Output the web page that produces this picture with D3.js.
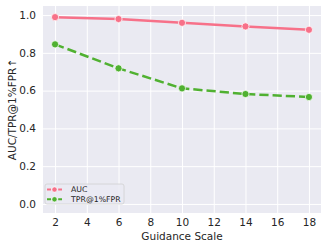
<!DOCTYPE html>
<html><head><meta charset="utf-8">
<script src="https://cdn.jsdelivr.net/npm/d3@7"></script>
<style>body{margin:0;background:#fff}svg{display:block}text{font-family:"DejaVu Sans",sans-serif;fill:#262626}</style>
</head><body><svg id="c" width="327" height="249"></svg>
<script>
const scales = [2, 6, 10, 14, 18];
const auc = [0.989, 0.979, 0.959, 0.940, 0.922];
const tpr = [0.845, 0.718, 0.612, 0.582, 0.566];
const xTicks = [2, 4, 6, 8, 10, 12, 14, 16, 18];
const yTicks = [0.0, 0.2, 0.4, 0.6, 0.8, 1.0];
const seriesNames = ["AUC", "TPR@1%FPR"];

const svg = d3.select("#c");
const m = {l: 43, r: 321, t: 6, b: 213};
const x = d3.scaleLinear().domain([1.24, 18.76]).range([m.l, m.r]);
const y = d3.scaleLinear().domain([-0.048, 1.048]).range([m.b, m.t]);

svg.append("rect").attr("x", m.l).attr("y", m.t).attr("width", m.r - m.l).attr("height", m.b - m.t).attr("fill", "#eaeaf2");

const gx = svg.append("g").attr("transform", `translate(0,${m.b})`)
  .call(d3.axisBottom(x).tickValues(xTicks).tickSize(-(m.b - m.t)).tickPadding(6).tickFormat(d3.format("d")));
const gy = svg.append("g").attr("transform", `translate(${m.l},0)`)
  .call(d3.axisLeft(y).tickValues(yTicks).tickSize(-(m.r - m.l)).tickPadding(7).tickFormat(d3.format(".1f")));
[gx, gy].forEach(g => {
  g.select(".domain").remove();
  g.selectAll(".tick line").attr("stroke", "#fff").attr("stroke-width", 1);
  g.selectAll(".tick text").attr("font-size", 10.5).style("fill", "#262626");
});

const series = [
  {name: seriesNames[0], vals: auc, color: "#f77189", dash: null},
  {name: seriesNames[1], vals: tpr, color: "#50b131", dash: "9.25,4"}
];
const line = d3.line().x((d, i) => x(scales[i])).y(d => y(d));
series.forEach(s => {
  svg.append("path").datum(s.vals).attr("d", line).attr("fill", "none")
    .attr("stroke", s.color).attr("stroke-width", 2.5).attr("stroke-dasharray", s.dash);
  svg.selectAll(null).data(s.vals).enter().append("circle")
    .attr("cx", (d, i) => x(scales[i])).attr("cy", d => y(d)).attr("r", 3.6)
    .attr("fill", s.color).attr("stroke", "#fff").attr("stroke-width", 0.75);
});

// axis labels
svg.append("text").attr("x", (m.l + m.r) / 2).attr("y", 240).attr("text-anchor", "middle").attr("font-size", 10.5).text("Guidance Scale");
svg.append("text").attr("transform", `translate(16,${(m.t + m.b) / 2}) rotate(-90)`).attr("text-anchor", "middle").attr("font-size", 10.5).text("AUC/TPR@1%FPR↑");

// legend
const lg = svg.append("g");
lg.append("rect").attr("x", 45).attr("y", 184).attr("width", 79).attr("height", 20).attr("rx", 2)
  .attr("fill", "#eaeaf2").attr("fill-opacity", 0.8).attr("stroke", "#d0d0d0").attr("stroke-width", 0.8);
series.forEach((s, i) => {
  const yy = 189.5 + i * 9.8;
  lg.append("line").attr("x1", 47).attr("x2", 62).attr("y1", yy).attr("y2", yy)
    .attr("stroke", s.color).attr("stroke-width", 2).attr("stroke-dasharray", "4,1.6");
  lg.append("circle").attr("cx", 54.5).attr("cy", yy).attr("r", 2.6).attr("fill", s.color).attr("stroke", "#fff").attr("stroke-width", 0.6);
  lg.append("text").attr("x", 71).attr("y", yy).attr("dy", "0.35em").attr("font-size", 7.8).text(s.name);
});
</script></body></html>
